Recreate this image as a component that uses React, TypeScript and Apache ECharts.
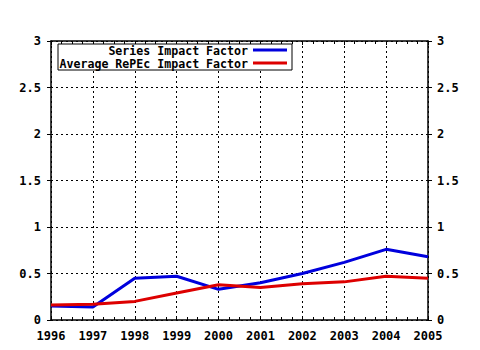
import React, { useEffect, useRef } from "react";
import * as echarts from "echarts";

const years = [1996, 1997, 1998, 1999, 2000, 2001, 2002, 2003, 2004, 2005];
const seriesImpact = [0.15, 0.14, 0.45, 0.47, 0.33, 0.40, 0.50, 0.62, 0.76, 0.68];
const averageImpact = [0.16, 0.17, 0.20, 0.29, 0.38, 0.35, 0.39, 0.41, 0.47, 0.45];
const seriesNames = ["Series Impact Factor", "Average RePEc Impact Factor"];
const colors = ["#0000dd", "#dd0000"];

const FONT = "DejaVu Sans Mono";

export default function App() {
  const ref = useRef<HTMLDivElement>(null);
  useEffect(() => {
    if (!ref.current) return;
    const chart = echarts.init(ref.current, null, { renderer: "svg" });
    const labelStyle = { color: "#000", fontFamily: FONT, fontWeight: "bold" as const, fontSize: 12 };
    const dotted = { show: true, lineStyle: { color: "#000", type: [2, 3] as any, width: 1 } };
    const yFmt = (v: number) => String(v);
    const left = 51, top = 41, right = 428, bottom = 320;
    chart.setOption({
      animation: false,
      backgroundColor: "#fff",
      grid: { left, top, right: 480 - right, bottom: 350 - bottom, show: false },
      xAxis: [
        {
          type: "value", min: 1996, max: 2005, interval: 1, position: "bottom",
          axisLine: { show: true, onZero: false, lineStyle: { color: "#000", width: 1.5 } },
          axisTick: { show: true, inside: true, length: 4, lineStyle: { color: "#000" } },
          minorTick: { show: true, splitNumber: 4, length: 3, lineStyle: { color: "#000" } },
          axisLabel: { ...labelStyle, margin: 10, formatter: (v: number) => String(v) },
          splitLine: dotted,
        },
        {
          type: "value", min: 1996, max: 2005, interval: 1, position: "top",
          axisLine: { show: true, onZero: false, lineStyle: { color: "#000", width: 1.5 } },
          axisTick: { show: true, inside: true, length: 4, lineStyle: { color: "#000" } },
          minorTick: { show: true, splitNumber: 4, length: 3, lineStyle: { color: "#000" } },
          axisLabel: { show: false },
          splitLine: { show: false },
        },
      ],
      yAxis: [
        {
          type: "value", min: 0, max: 3, interval: 0.5, position: "left",
          axisLine: { show: true, lineStyle: { color: "#000", width: 1.5 } },
          axisTick: { show: true, length: 4, lineStyle: { color: "#000" } },
          axisLabel: { ...labelStyle, margin: 10, formatter: yFmt },
          splitLine: dotted,
        },
        {
          type: "value", min: 0, max: 3, interval: 0.5, position: "right",
          axisLine: { show: true, lineStyle: { color: "#000", width: 1.5 } },
          axisTick: { show: true, length: 4, lineStyle: { color: "#000" } },
          axisLabel: { ...labelStyle, margin: 9, formatter: yFmt },
          splitLine: { show: false },
        },
      ],
      series: [
        {
          name: seriesNames[0], type: "line", symbol: "none",
          lineStyle: { color: colors[0], width: 3 },
          data: years.map((y, i) => [y, seriesImpact[i]]),
        },
        {
          name: seriesNames[1], type: "line", symbol: "none",
          lineStyle: { color: colors[1], width: 3 },
          data: years.map((y, i) => [y, averageImpact[i]]),
        },
      ],
      graphic: [
        {
          type: "rect", shape: { x: 58, y: 44, width: 234, height: 26 },
          style: { fill: "#fff", stroke: "#000", lineWidth: 1 }, z: 10,
        },
        {
          type: "text", x: 248, y: 50.5, z: 11,
          style: { text: seriesNames[0], align: "right", verticalAlign: "middle", fill: "#000", font: `bold 11.6px "${FONT}"` },
        },
        {
          type: "text", x: 248, y: 63.5, z: 11,
          style: { text: seriesNames[1], align: "right", verticalAlign: "middle", fill: "#000", font: `bold 11.6px "${FONT}"` },
        },
        {
          type: "line", shape: { x1: 253, y1: 50, x2: 287, y2: 50 }, z: 11,
          style: { stroke: colors[0], lineWidth: 3 },
        },
        {
          type: "line", shape: { x1: 253, y1: 63, x2: 287, y2: 63 }, z: 11,
          style: { stroke: colors[1], lineWidth: 3 },
        },
      ],
    });
    return () => chart.dispose();
  }, []);
  return <div ref={ref} style={{ width: 480, height: 350, position: "absolute", left: 0, top: 0 }} />;
}
